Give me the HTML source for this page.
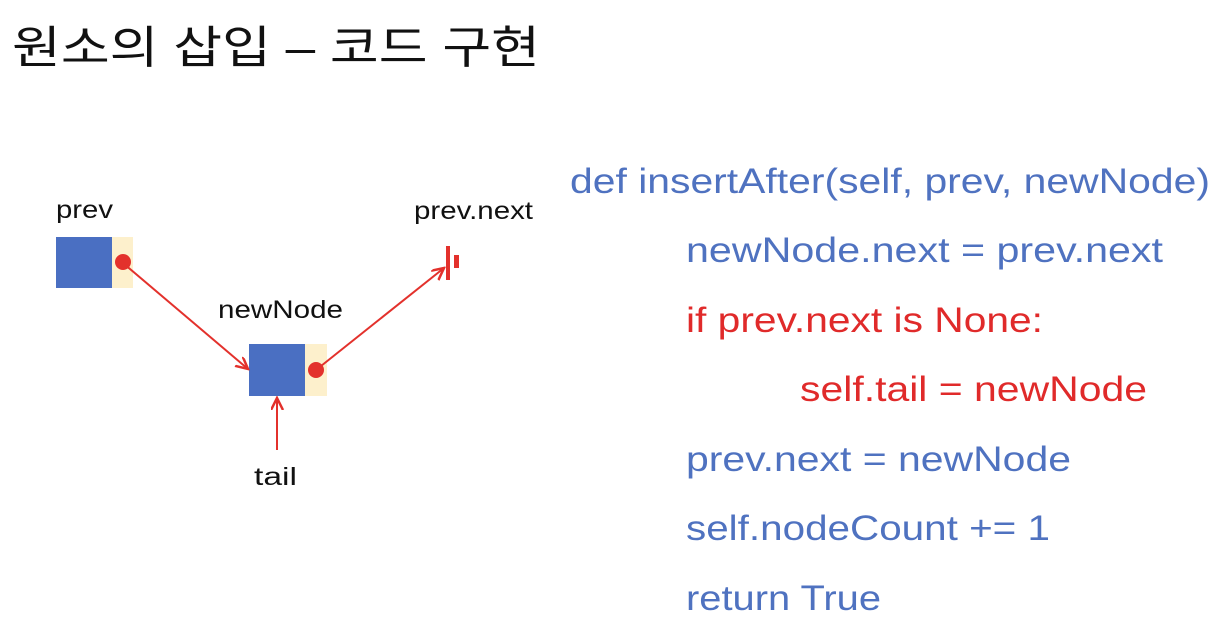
<!DOCTYPE html>
<html><head><meta charset="utf-8"><style>
html,body{margin:0;padding:0;background:#fff;}
svg{display:block;}
</style></head><body>
<svg width="1216" height="636" viewBox="0 0 1216 636" xmlns="http://www.w3.org/2000/svg">
<defs>
<marker id="ah" markerWidth="14" markerHeight="14" refX="12" refY="6" orient="auto" markerUnits="userSpaceOnUse">
<path d="M0,0 L12,6 L0,12" fill="none" stroke="#e3312c" stroke-width="2.5"/>
</marker>
</defs>
<text x="12" y="63" font-family="'Liberation Sans','Noto Sans CJK KR',sans-serif" font-size="45" fill="#111" textLength="528" lengthAdjust="spacingAndGlyphs">원소의 삽입 – 코드 구현</text>

<g font-family="'Liberation Sans','DejaVu Sans',sans-serif" font-size="25" fill="#111">
<text x="56" y="218" textLength="57" lengthAdjust="spacingAndGlyphs">prev</text>
<text x="414" y="219" textLength="119" lengthAdjust="spacingAndGlyphs">prev.next</text>
<text x="218" y="318" textLength="125" lengthAdjust="spacingAndGlyphs">newNode</text>
<text x="254" y="485" textLength="43" lengthAdjust="spacingAndGlyphs">tail</text>
</g>

<rect x="56" y="237" width="56" height="51" fill="#4a6fc2"/>
<rect x="112" y="237" width="21" height="51" fill="#fdf0cc"/>
<rect x="249" y="344" width="56" height="52" fill="#4a6fc2"/>
<rect x="305" y="344" width="22" height="52" fill="#fdf0cc"/>

<line x1="123" y1="263" x2="248" y2="369" stroke="#e3312c" stroke-width="2" marker-end="url(#ah)"/>
<line x1="316" y1="370" x2="444" y2="268" stroke="#e3312c" stroke-width="2" marker-end="url(#ah)"/>
<line x1="277" y1="450" x2="277" y2="398" stroke="#e3312c" stroke-width="2" marker-end="url(#ah)"/>
<circle cx="123" cy="262" r="8" fill="#e3312c"/>
<circle cx="316" cy="370" r="8" fill="#e3312c"/>
<rect x="446" y="246" width="4" height="34" fill="#e3312c"/>
<rect x="454" y="255" width="5" height="13" fill="#e3312c"/>

<g font-family="'Liberation Sans','DejaVu Sans',sans-serif" font-size="35">
<text x="570" y="193" fill="#4f72c0" textLength="640" lengthAdjust="spacingAndGlyphs">def insertAfter(self, prev, newNode)</text>
<text x="686" y="262" fill="#4f72c0" textLength="477" lengthAdjust="spacingAndGlyphs">newNode.next = prev.next</text>
<text x="686" y="332" fill="#e02a2a" textLength="357" lengthAdjust="spacingAndGlyphs">if prev.next is None:</text>
<text x="800" y="401" fill="#e02a2a" textLength="347" lengthAdjust="spacingAndGlyphs">self.tail = newNode</text>
<text x="686" y="471" fill="#4f72c0" textLength="385" lengthAdjust="spacingAndGlyphs">prev.next = newNode</text>
<text x="686" y="540" fill="#4f72c0" textLength="364" lengthAdjust="spacingAndGlyphs">self.nodeCount += 1</text>
<text x="686" y="610" fill="#4f72c0" textLength="195" lengthAdjust="spacingAndGlyphs">return True</text>
</g>
</svg>
</body></html>
